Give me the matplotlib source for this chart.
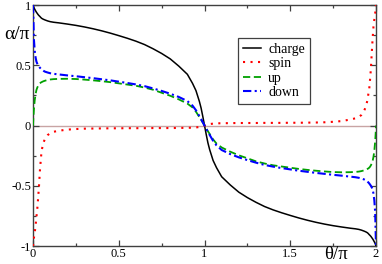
import matplotlib
matplotlib.use('Agg')
import matplotlib.pyplot as plt
from matplotlib.ticker import MultipleLocator, FuncFormatter

plt.rcParams['font.family'] = ['Liberation Serif', 'DejaVu Serif']
plt.rcParams['axes.unicode_minus'] = False

# theta / pi sample positions (denser near 0, 1 and 2)
theta = [0, 0.002, 0.005, 0.01, 0.015, 0.02, 0.025, 0.03, 0.035, 0.04,
         0.045, 0.05, 0.06, 0.07, 0.085, 0.1, 0.12, 0.15, 0.2, 0.25,
         0.3, 0.35, 0.4, 0.45, 0.5, 0.55, 0.6, 0.65, 0.7, 0.75,
         0.8, 0.85, 0.9, 0.93, 0.95, 0.97, 0.98, 0.99, 1.0,
         1.01, 1.02, 1.03, 1.05, 1.07, 1.1, 1.15, 1.2, 1.25, 1.3,
         1.35, 1.4, 1.45, 1.5, 1.55, 1.6, 1.65, 1.7, 1.75, 1.8,
         1.85, 1.88, 1.9, 1.915, 1.93, 1.94, 1.95, 1.955, 1.96, 1.965,
         1.97, 1.975, 1.98, 1.985, 1.99, 1.995, 1.998, 2.0]

charge = [1.0, 0.99, 0.98, 0.965, 0.952, 0.94, 0.93, 0.92, 0.912, 0.905,
          0.897, 0.89, 0.882, 0.876, 0.868, 0.862, 0.857, 0.852, 0.842, 0.831,
          0.818, 0.803, 0.786, 0.767, 0.746, 0.724, 0.70, 0.672, 0.637, 0.598,
          0.553, 0.493, 0.425, 0.35, 0.29, 0.20, 0.145, 0.075, 0.0,
          -0.075, -0.145, -0.20, -0.29, -0.35, -0.425, -0.493, -0.553, -0.598, -0.637,
          -0.672, -0.70, -0.724, -0.746, -0.767, -0.786, -0.803, -0.818, -0.831, -0.842,
          -0.852, -0.857, -0.862, -0.868, -0.876, -0.882, -0.89, -0.897, -0.905, -0.912,
          -0.92, -0.93, -0.94, -0.952, -0.965, -0.98, -0.99, -1.0]

spin = [-1.0, -0.97, -0.935, -0.89, -0.83, -0.76, -0.69, -0.6, -0.5, -0.38,
        -0.29, -0.21, -0.145, -0.11, -0.08, -0.064, -0.052, -0.043, -0.034, -0.029,
        -0.026, -0.025, -0.024, -0.023, -0.023, -0.022, -0.022, -0.022, -0.021, -0.021,
        -0.021, -0.02, -0.019, -0.018, -0.016, -0.012, -0.009, -0.005, 0.0,
        0.005, 0.009, 0.012, 0.016, 0.018, 0.019, 0.02, 0.021, 0.021, 0.021,
        0.022, 0.022, 0.022, 0.023, 0.023, 0.024, 0.025, 0.027, 0.031, 0.037,
        0.05, 0.06, 0.072, 0.088, 0.12, 0.155, 0.21, 0.26, 0.3, 0.38,
        0.47, 0.6, 0.72, 0.82, 0.88, 0.93, 0.97, 1.0]

up = [0.0, 0.06, 0.13, 0.21, 0.26, 0.295, 0.315, 0.33, 0.342, 0.35,
      0.356, 0.36, 0.367, 0.372, 0.378, 0.382, 0.385, 0.387, 0.388, 0.386,
      0.381, 0.375, 0.368, 0.36, 0.35, 0.34, 0.33, 0.315, 0.297, 0.272,
      0.247, 0.217, 0.182, 0.15, 0.115, 0.07, 0.048, 0.024, 0.0,
      -0.024, -0.048, -0.07, -0.115, -0.15, -0.182, -0.217, -0.247, -0.272, -0.297,
      -0.315, -0.33, -0.34, -0.35, -0.36, -0.368, -0.375, -0.381, -0.386, -0.388,
      -0.387, -0.385, -0.382, -0.378, -0.372, -0.367, -0.36, -0.356, -0.35, -0.342,
      -0.33, -0.315, -0.295, -0.26, -0.21, -0.13, -0.06, 0.0]

down = [1.0, 0.9, 0.72, 0.62, 0.565, 0.53, 0.513, 0.5, 0.49, 0.48,
        0.472, 0.465, 0.455, 0.447, 0.44, 0.434, 0.429, 0.424, 0.416, 0.409,
        0.401, 0.393, 0.384, 0.375, 0.364, 0.353, 0.341, 0.327, 0.308, 0.287,
        0.264, 0.237, 0.203, 0.165, 0.127, 0.078, 0.053, 0.027, 0.0,
        -0.027, -0.053, -0.078, -0.127, -0.165, -0.203, -0.237, -0.264, -0.287, -0.308,
        -0.327, -0.341, -0.353, -0.364, -0.375, -0.384, -0.393, -0.401, -0.409, -0.416,
        -0.424, -0.429, -0.434, -0.44, -0.447, -0.455, -0.465, -0.472, -0.48, -0.49,
        -0.5, -0.513, -0.53, -0.565, -0.62, -0.72, -0.9, -1.0]

fig = plt.figure(figsize=(3.82, 2.64), dpi=100)
ax = fig.add_axes([0.0864, 0.068, 0.898, 0.913])

ax.axhline(0, color='#c8a4a4', lw=1.0, zorder=1)
ax.plot(theta, charge, color='black', lw=1.1, label='charge', zorder=3)
ax.plot(theta, spin, color='#ff0000', lw=1.5, ls=(0, (1, 2.6)), label='spin', zorder=3)
ax.plot(theta, up, color='#00a000', lw=1.3, ls=(0, (4, 2)), label='up', zorder=3)
ax.plot(theta, down, color='#0000ff', lw=1.5, ls=(0, (4, 1.6, 1, 1.6)), label='down', zorder=4)

ax.set_xlim(0, 2)
ax.set_ylim(-1, 1)
ax.xaxis.set_major_locator(MultipleLocator(0.5))
ax.xaxis.set_minor_locator(MultipleLocator(0.25))
ax.yaxis.set_major_locator(MultipleLocator(0.5))
ax.yaxis.set_minor_locator(MultipleLocator(0.25))
fmt = FuncFormatter(lambda v, p: '%g' % v)
ax.xaxis.set_major_formatter(fmt)
ax.yaxis.set_major_formatter(fmt)
ax.tick_params(which='both', direction='in', top=True, right=True,
               color='#404040', labelsize=9, pad=1.5)
ax.tick_params(which='major', length=4.5, width=0.9)
ax.tick_params(which='minor', length=2.5, width=0.9)
for s in ax.spines.values():
    s.set_color('#404040')
    s.set_linewidth(1.0)

fig.text(0.045, 0.87, 'α/π', fontsize=14, ha='center', va='center')
fig.text(0.88, 0.035, 'θ/π', fontsize=13.5, ha='center', va='center')

leg = ax.legend(loc='upper left', bbox_to_anchor=(0.598, 0.863), borderaxespad=0,
                fontsize=10, handlelength=1.3, handletextpad=0.5,
                labelspacing=0.1, borderpad=0.35, fancybox=False, framealpha=1)
leg.get_frame().set_edgecolor('#404040')
leg.get_frame().set_linewidth(0.9)

fig.savefig('out.png', dpi=100)
